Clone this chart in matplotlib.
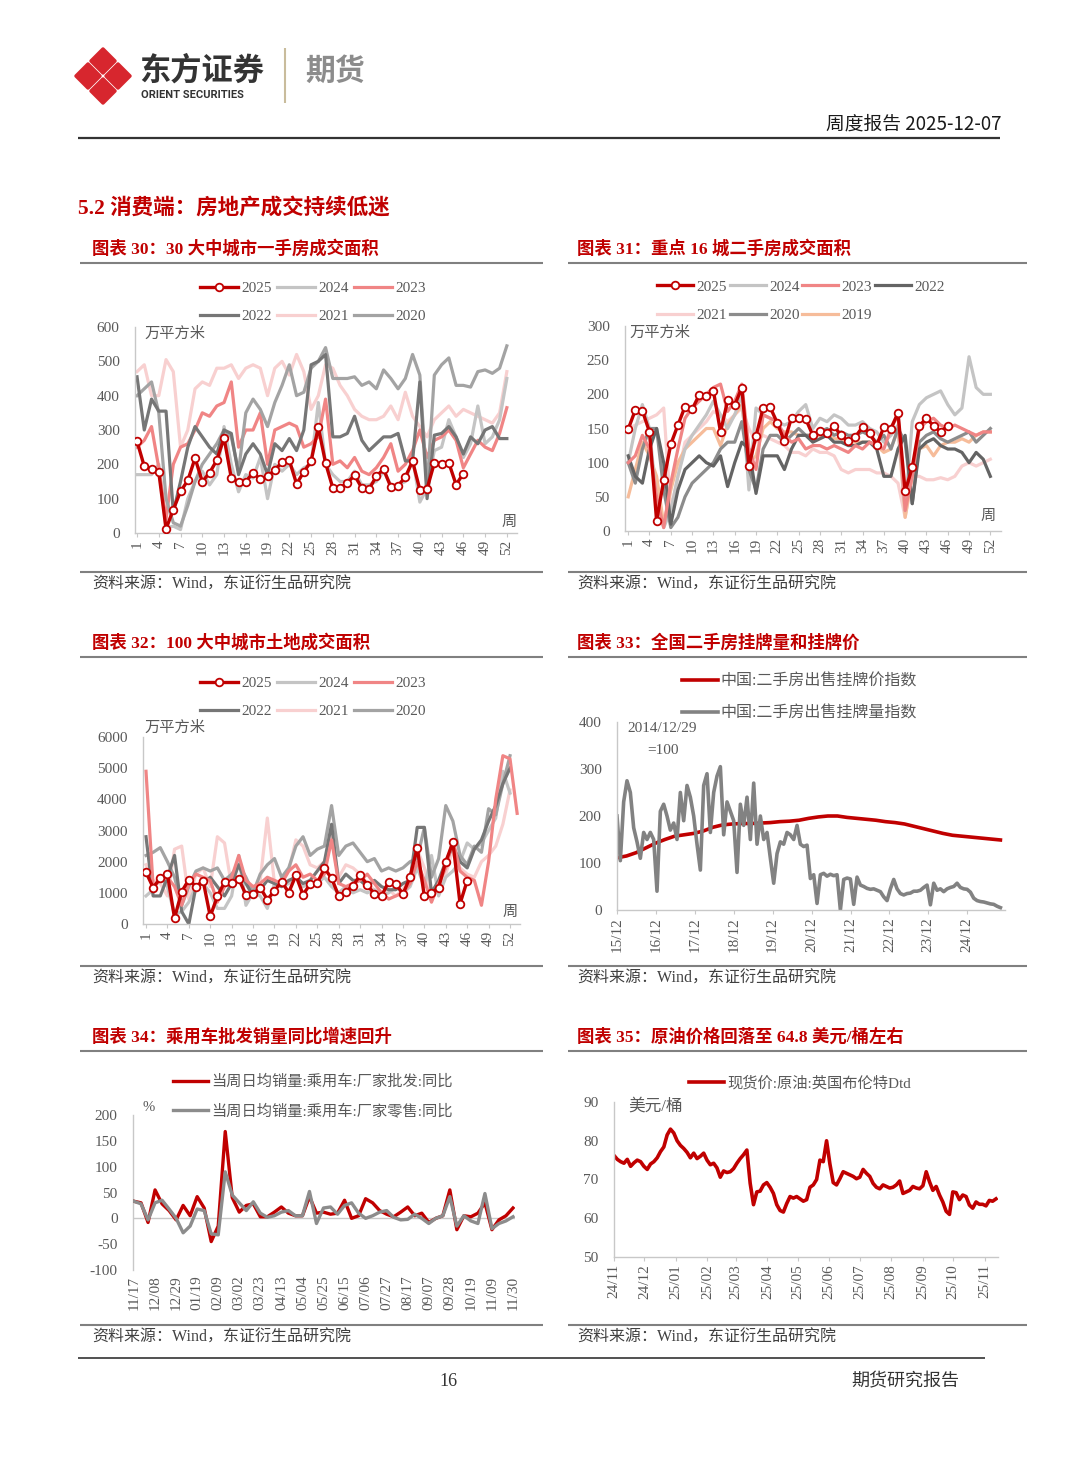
import numpy as np
import pandas as pd
import matplotlib
matplotlib.use('Agg')
import matplotlib.pyplot as plt
from matplotlib.patches import Polygon

plt.rcParams['font.family'] = ['Liberation Serif', 'Noto Sans CJK SC', 'DejaVu Sans']
plt.rcParams['axes.unicode_minus'] = False

W, H = 1080, 1466
RED = '#C00000'
TXT = '#595959'
CJK = ['Noto Sans CJK SC', 'DejaVu Sans']

# ---------------- data ----------------
# chart 30: 30 city new home sales area (10k m2), by week
f30_2025 = [267, 194, 187, 177, 12, 68, 121, 153, 218, 150, 175, 212, 277, 160, 150, 150, 175, 157, 165, 184,
            206, 212, 143, 178, 209, 308, 204, 131, 131, 146, 168, 131, 128, 165, 186, 134, 138, 163, 209, 126,
            129, 204, 202, 204, 141, 173]
f30_2024 = [170, 170, 170, 200, 15, 20, 10, 100, 150, 180, 140, 170, 310, 200, 120, 170, 160, 220, 100, 200,
            180, 200, 170, 190, 200, 380, 200, 170, 150, 150, 180, 140, 140, 150, 180, 140, 140, 150, 220, 90,
            130, 240, 250, 330, 280, 220, 260, 370, 260, 280, 330, 450]
f30_2023 = [250, 270, 310, 190, 40, 200, 250, 260, 300, 350, 340, 370, 380, 440, 250, 300, 300, 350, 200, 300,
            310, 320, 310, 250, 260, 280, 390, 200, 210, 190, 220, 180, 170, 190, 220, 260, 180, 200, 240, 300,
            220, 270, 280, 300, 270, 190, 230, 270, 250, 240, 290, 365]
f30_2022 = [455, 300, 390, 355, 355, 60, 150, 250, 310, 280, 250, 230, 300, 290, 170, 230, 260, 230, 170, 260,
            240, 275, 240, 300, 490, 500, 520, 280, 280, 290, 340, 270, 240, 260, 280, 280, 290, 210, 210, 440,
            100, 285, 290, 310, 280, 230, 280, 260, 300, 310, 275, 275]
f30_2021 = [470, 490, 400, 400, 505, 470, 250, 300, 420, 440, 430, 480, 480, 490, 450, 480, 490, 480, 400, 480,
            500, 460, 520, 470, 360, 400, 490, 480, 430, 400, 360, 340, 330, 330, 340, 370, 330, 410, 340, 310,
            280, 330, 350, 370, 340, 360, 350, 340, 330, 320, 350, 470]
f30_2020 = [400, 420, 440, 350, 100, 30, 20, 80, 150, 200, 230, 260, 300, 280, 180, 350, 390, 360, 310, 380,
            430, 490, 400, 410, 480, 500, 540, 450, 450, 450, 455, 430, 440, 420, 475, 450, 420, 450, 520, 460,
            130, 460, 490, 510, 430, 430, 425, 470, 475, 465, 480, 545]

# chart 31: 16 city second-hand home sales area
s31_2025 = [149, 177, 176, 145, 15, 74, 127, 155, 182, 178, 199, 198, 205, 145, 191, 184, 210, 95, 139, 180,
            181, 158, 131, 166, 166, 164, 140, 147, 144, 153, 140, 131, 138, 152, 143, 126, 152, 150, 173, 58,
            93, 154, 165, 154, 145, 154]
s31_2024 = [100, 150, 185, 150, 40, 5, 30, 80, 120, 140, 155, 170, 190, 170, 150, 170, 200, 60, 180, 170,
            165, 160, 155, 160, 175, 185, 150, 165, 160, 170, 165, 155, 155, 160, 150, 145, 130, 140, 155, 30,
            160, 185, 195, 200, 205, 185, 170, 180, 255, 210, 200, 200]
s31_2023 = [100, 110, 140, 120, 50, 5, 70, 120, 165, 180, 190, 200, 210, 215, 175, 190, 215, 120, 90, 170,
            165, 160, 140, 130, 135, 120, 125, 125, 120, 125, 120, 115, 125, 120, 130, 125, 120, 150, 170, 30,
            80, 150, 160, 165, 155, 150, 155, 150, 145, 140, 145, 145]
s31_2022 = [110, 80, 70, 120, 150, 100, 10, 60, 90, 100, 110, 100, 95, 110, 65, 100, 130, 120, 55, 110,
            110, 110, 90, 120, 140, 140, 130, 135, 140, 130, 130, 125, 125, 130, 130, 120, 80, 80, 120, 140,
            40, 120, 130, 135, 125, 120, 120, 115, 100, 115, 105, 80]
s31_2021 = [150, 155, 160, 165, 170, 180, 30, 80, 130, 140, 150, 160, 175, 170, 160, 170, 180, 150, 130, 140,
            135, 130, 125, 115, 115, 110, 120, 115, 115, 110, 90, 85, 90, 90, 90, 85, 85, 80, 70, 20,
            80, 80, 75, 75, 78, 75, 80, 95, 100, 95, 100, 105]
s31_2020 = [100, 70, 120, 150, 150, 60, 5, 20, 50, 70, 80, 90, 100, 120, 130, 130, 160, 90, 60, 120,
            140, 140, 130, 140, 150, 140, 140, 145, 150, 140, 145, 140, 140, 145, 140, 130, 140, 120, 150, 130,
            40, 130, 140, 145, 135, 130, 135, 140, 145, 130, 140, 150]
s31_2019 = [50, 90, 130, 110, 80, 10, 60, 100, 120, 130, 140, 150, 150, 125, 155, 170, 185, 100, 110, 150,
            160, 150, 145, 145, 140, 140, 140, 140, 140, 135, 135, 130, 130, 130, 130, 125, 115, 120, 150, 20,
            80, 120, 125, 110, 125, 130, 130, 135, 130, 140, 145, 145]

# chart 32: 100 city land transaction area
l32_2025 = [1660, 1170, 1470, 1600, 190, 1040, 1420, 1200, 1390, 245, 885, 1340, 1300, 1440, 940, 960, 1170, 780,
            1070, 1360, 1010, 1560, 940, 1280, 1310, 1790, 1470, 900, 1040, 1230, 1560, 1260, 960, 900, 1360,
            1290, 960, 1510, 2450, 885, 1000, 1170, 2000, 2620, 650, 1390]
l32_2024 = [900, 1100, 1500, 1200, 300, 400, 700, 1200, 1300, 1000, 500, 500, 900, 2200, 600, 1000, 900, 500,
            1300, 1200, 1300, 1600, 1200, 1300, 1300, 1500, 1200, 1000, 1200, 1000, 1100, 1000, 1100, 900, 1000,
            1200, 1000, 1200, 1800, 1200, 2200, 900, 1500, 1700, 2000, 2600, 2400, 2600, 3000, 3400, 4900, 4200]
l32_2023 = [4900, 1200, 1400, 1500, 1200, 600, 1300, 1600, 1500, 1400, 700, 1200, 1500, 2200, 1400, 1200, 1300,
            1500, 1400, 1300, 1700, 1900, 1500, 1600, 1400, 1600, 2700, 1300, 1200, 1300, 1400, 1600, 1300, 1000,
            800, 900, 1000, 1300, 2000, 1400, 700, 1300, 1800, 2700, 1700, 1500, 1400, 600, 2000, 4000, 5400,
            5300, 3550]
l32_2022 = [2800, 900, 900, 1500, 2200, 400, 0, 1200, 1300, 1500, 1200, 900, 1300, 1900, 1300, 900, 1100, 1400,
            1300, 1200, 1400, 1500, 1300, 1400, 1700, 2000, 3200, 1300, 1600, 1400, 1400, 1200, 1400, 1200, 1100,
            1100, 1300, 1400, 3100, 3100, 1000, 1400, 2000, 2500, 2000, 1800, 2400, 2700, 3300, 3800, 4500, 5000]
l32_2021 = [1900, 1400, 1300, 900, 2400, 2500, 800, 1600, 1800, 1200, 2800, 2600, 1200, 1500, 1400, 1000, 1400,
            3400, 1300, 1400, 1700, 2700, 2500, 1900, 1800, 2000, 2800, 1500, 1900, 1800, 1600, 1300, 1100, 900,
            1100, 900, 1100, 1500, 2400, 1800, 900, 1200, 1600, 2400, 1800, 1600, 1500, 2000, 2200, 2500, 3200,
            4300]
l32_2020 = [2200, 2300, 2450, 2000, 1500, 600, 1200, 1700, 1800, 1700, 1800, 1400, 1600, 1900, 1500, 1000, 1600,
            1900, 2100, 1500, 1800, 2500, 2800, 2200, 2400, 2500, 3800, 2200, 2500, 2600, 2300, 2000, 2100, 1700,
            1800, 1700, 1800, 2000, 2100, 3100, 1500, 2100, 3800, 3300, 2200, 1900, 2500, 2300, 3700, 3500, 4500,
            5400]

# chart 33: listing price / volume index (2014/12/29 = 100), Dec 2015 - Oct 2025
price33 = [111, 115, 122, 132, 142, 150, 157, 160, 163, 168, 176, 181, 183, 184, 184, 185, 186, 188, 189, 191,
           195, 198, 200, 200, 197, 195, 193, 191, 188, 186, 183, 178, 173, 168, 163, 159, 157, 155, 153, 151, 149]
volume33 = [200, 105, 230, 275, 250, 175, 145, 110, 165, 150, 165, 150, 40, 210, 225, 200, 170, 185, 150, 250,
            190, 265, 240, 200, 140, 85, 265, 290, 165, 250, 285, 305, 160, 230, 210, 190, 80, 225, 180, 240,
            150, 270, 140, 200, 150, 165, 110, 57, 120, 145, 140, 165, 160, 150, 180, 140, 135, 138, 67, 75,
            14, 75, 78, 72, 76, 73, 75, 0, 65, 68, 66, 12, 70, 53, 50, 46, 44, 45, 42, 39,
            28, 20, 45, 65, 45, 35, 32, 35, 36, 40, 40, 42, 48, 53, 11, 57, 42, 45, 39, 45,
            48, 50, 57, 48, 45, 44, 38, 25, 20, 18, 17, 15, 13, 12, 8, 5]

# chart 34: passenger car weekly daily-average sales yoy (%)
wholesale34 = [33, 30, -8, 55, 28, 15, -3, 25, 5, 42, 20, -45, -15, 168, 40, 12, 25, 28, 3, 3,
               12, 22, 10, 5, 5, 42, 10, 12, 8, 10, 35, 0, 5, 38, 30, 15, 8, 3, 12, 22,
               5, 10, -8, 0, 5, 55, -22, 5, 3, 10, 30, -22, -3, 5, 20]
retail34 = [33, 28, -3, 30, 35, 18, 0, -28, -15, 18, 15, -30, -32, 90, 45, 30, 15, 32, 10, 2,
            5, 12, 15, 5, 5, 52, -10, 20, 22, 8, 25, 30, 10, 0, 5, 12, 15, 2, -3, -2,
            8, 0, -10, 0, 5, 42, -15, 5, -5, -10, 48, -20, -10, -5, 3]

# chart 35: Brent Dtd spot (USD/bbl), Nov 2024 - Nov 2025
brent35 = [76.2, 75.2, 74.6, 74.2, 75.2, 73.4, 74.3, 75.0, 74.6, 73.4,
           72.6, 74.0, 74.6, 75.6, 77.2, 78.4, 81.5, 83.0, 82.0, 80.0,
           78.8, 78.0, 77.0, 75.6, 76.8, 75.4, 76.0, 76.8, 75.0, 73.8,
           74.2, 73.0, 70.6, 72.2, 71.8, 72.0, 72.8, 74.2, 75.4, 76.4,
           77.6, 69.0, 63.5, 66.8, 67.0, 68.6, 69.2, 68.0, 66.4, 63.5,
           62.0, 61.6, 63.8, 65.6, 65.2, 65.6, 65.0, 64.4, 64.8, 68.0,
           68.6, 70.0, 75.0, 74.6, 80.0, 74.0, 69.2, 68.6, 70.2, 72.0,
           71.6, 71.2, 70.8, 70.2, 70.6, 72.6, 71.6, 70.8, 69.0, 68.0,
           67.6, 68.6, 68.2, 67.8, 68.0, 68.6, 69.6, 66.4, 66.8, 67.2,
           68.2, 67.8, 67.6, 68.4, 72.0, 69.4, 67.2, 68.2, 66.0, 64.2,
           61.8, 61.0, 66.8, 66.6, 64.8, 66.0, 65.6, 63.4, 62.6, 64.2,
           63.6, 63.6, 63.2, 64.6, 64.4, 65.0]

week_ticks = np.arange(1, 53, 3)


def rect(x0, y0, x1, y1):
    return [x0 / W, 1 - y1 / H, (x1 - x0) / W, (y1 - y0) / H]


def style(ax):
    ax.set_facecolor('none')
    for s in ('top', 'right'):
        ax.spines[s].set_visible(False)
    for s in ('left', 'bottom'):
        ax.spines[s].set_color('#C8C8C8')
        ax.spines[s].set_linewidth(1.0)
    ax.tick_params(axis='y', length=0, pad=11, labelsize=11, labelcolor=TXT)
    ax.tick_params(axis='x', length=3, width=0.8, pad=2, labelsize=11, labelcolor=TXT,
                   color='#C8C8C8', labelrotation=90)


def legend(ax, handles, ncol, anchor, fs=11, hl=2.5, cs=0.35):
    ax.legend(handles=handles, ncol=ncol, loc='center', bbox_to_anchor=anchor, frameon=False,
              fontsize=fs, handlelength=hl, handletextpad=0.2, columnspacing=cs,
              labelspacing=0.95, borderpad=0, labelcolor=TXT)


def weekly(ax, series, colors):
    lines = {}
    for name, y in series:
        x = np.arange(1, len(y) + 1)
        if name == '2025':
            ln, = ax.plot(x, y, color=RED, lw=2.4, marker='o', ms=5.5, mfc='white',
                          mec=RED, mew=1.3, zorder=5, label=name)
        else:
            ln, = ax.plot(x, y, color=colors[name], lw=2.3, label=name, solid_joinstyle='round')
        lines[name] = ln
    ax.set_xticks(week_ticks)
    return lines


fig = plt.figure(figsize=(W / 100, H / 100), dpi=100)

# ---------------- page decorations ----------------
page = fig.add_axes([0, 0, 1, 1])
page.set_xlim(0, W)
page.set_ylim(H, 0)
page.axis('off')

# logo
for cx, cy in [(103, 61), (88, 76), (118, 76), (103, 91)]:
    d = 12
    page.add_patch(Polygon([(cx, cy - d), (cx + d, cy), (cx, cy + d), (cx - d, cy)], closed=True,
                           facecolor='#D7262E', edgecolor='#D7262E', lw=2.5, joinstyle='round'))
page.text(139, 71, '东方证券', fontsize=22.5, fontweight='bold', color='#333333', family=CJK, va='center')
page.text(141, 95, 'ORIENT SECURITIES', fontsize=8, fontweight='bold', color='#333333',
          family=['Roboto', 'DejaVu Sans'], va='center')
page.vlines(285, 48, 103, color='#C9BC9C', lw=1.5)
page.text(305, 71, '期货', fontsize=21.5, fontweight='bold', color='#8C8C8C', family=CJK, va='center')
page.text(1001, 124, '周度报告 2025-12-07', fontsize=13.5, color='#1A1A1A', family=CJK, ha='right', va='center')
page.hlines(138, 78, 1000, color='#333333', lw=1.6)

page.text(78, 209, '5.2 消费端：房地产成交持续低迷', fontsize=15.5, fontweight='bold', color=RED, va='center')

titles = ['图表 30：30 大中城市一手房成交面积', '图表 31：重点 16 城二手房成交面积',
          '图表 32：100 大中城市土地成交面积', '图表 33：全国二手房挂牌量和挂牌价',
          '图表 34：乘用车批发销量同比增速回升', '图表 35：原油价格回落至 64.8 美元/桶左右']
row_title_y = [249, 643, 1037]
row_src_y = [572, 966, 1325]
for r in range(3):
    for c, (tx, lx0, lx1) in enumerate([(92, 80, 543), (577, 568, 1027)]):
        page.text(tx, row_title_y[r], titles[2 * r + c], fontsize=12.5, fontweight='bold', color=RED, va='center')
        page.hlines(row_title_y[r] + 14, lx0, lx1, color='#808080', lw=1.5)
        page.hlines(row_src_y[r], lx0, lx1, color='#808080', lw=1.5)
        page.text(tx, row_src_y[r] + 13, '资料来源：Wind，东证衍生品研究院', fontsize=11.5,
                  color='#404040', va='center')

page.hlines(1358, 78, 985, color='#333333', lw=1.2)
page.text(448, 1381, '16', fontsize=13, color='#333333', ha='center', va='center')
page.text(905, 1381, '期货研究报告', fontsize=13, color='#333333', family=CJK, ha='center', va='center')

# ---------------- chart 30 ----------------
ax = fig.add_axes(rect(135, 327, 517, 533))
style(ax)
c30 = {'2024': '#C4C4C4', '2023': '#F08585', '2022': '#767676', '2021': '#F8D0D0', '2020': '#A3A3A3'}
ln = weekly(ax, [('2021', f30_2021), ('2024', f30_2024), ('2023', f30_2023), ('2020', f30_2020),
                 ('2022', f30_2022), ('2025', f30_2025)], c30)
ax.set_xlim(0.72, 53.4)
ax.set_ylim(0, 600)
ax.set_yticks(np.arange(0, 601, 100))
legend(ax, [ln[k] for k in ['2025', '2022', '2024', '2021', '2023', '2020']], 3, (0.466, 1.119))
ax.text(0.026, 0.966, '万平方米', transform=ax.transAxes, fontsize=11, color=TXT, va='center')
ax.text(1.0, 0.02, '周', transform=ax.transAxes, fontsize=11, color=TXT, ha='right', va='bottom')

# ---------------- chart 31 ----------------
ax = fig.add_axes(rect(625, 326, 1001, 531))
style(ax)
c31 = {'2024': '#C4C4C4', '2023': '#F08585', '2022': '#646464', '2021': '#F8D0D0', '2020': '#8C8C8C',
       '2019': '#F6BC9A'}
ln = weekly(ax, [('2021', s31_2021), ('2019', s31_2019), ('2024', s31_2024), ('2020', s31_2020),
                 ('2022', s31_2022), ('2023', s31_2023), ('2025', s31_2025)], c31)
ax.set_xlim(0.55, 53.5)
ax.set_ylim(0, 300)
ax.set_yticks(np.arange(0, 301, 50))
legend(ax, [ln[k] for k in ['2025', '2021', '2024', '2020', '2023', '2019', '2022']], 4, (0.468, 1.122),
       hl=2.35, cs=0.2)
ax.text(0.013, 0.966, '万平方米', transform=ax.transAxes, fontsize=11, color=TXT, va='center')
ax.text(0.965, 0.07, '周', transform=ax.transAxes, fontsize=11, color=TXT, ha='center', va='center')

# ---------------- chart 32 ----------------
ax = fig.add_axes(rect(143, 737, 520, 924))
style(ax)
ln = weekly(ax, [('2021', l32_2021), ('2024', l32_2024), ('2020', l32_2020), ('2022', l32_2022),
                 ('2023', l32_2023), ('2025', l32_2025)], c30)
ax.set_xlim(0.58, 53.4)
ax.set_ylim(0, 6000)
ax.set_yticks(np.arange(0, 6001, 1000))
legend(ax, [ln[k] for k in ['2025', '2022', '2024', '2021', '2023', '2020']], 3, (0.451, 1.211))
ax.text(0.005, 1.048, '万平方米', transform=ax.transAxes, fontsize=11, color=TXT, va='center')
ax.text(0.973, 0.06, '周', transform=ax.transAxes, fontsize=11, color=TXT, ha='center', va='center')

# ---------------- chart 33 ----------------
ax = fig.add_axes(rect(617, 722, 1005, 910))
style(ax)
d_price = pd.date_range('2015-12-01', '2025-10-08', periods=len(price33))
d_vol = pd.date_range('2015-12-01', '2025-10-08', periods=len(volume33))
l1, = ax.plot(d_price, price33, color=RED, lw=2.6, label='中国:二手房出售挂牌价指数')
l2, = ax.plot(d_vol, volume33, color='#828282', lw=2.6, label='中国:二手房出售挂牌量指数')
tk = pd.date_range('2015-12-01', '2024-12-01', freq='12MS')
ax.set_xticks(tk)
ax.set_xticklabels([t.strftime('%y/%m') for t in tk])
ax.set_xlim(pd.Timestamp('2015-12-01'), pd.Timestamp('2025-11-20'))
ax.set_ylim(0, 400)
ax.set_yticks(np.arange(0, 401, 100))
legend(ax, [l1, l2], 1, (0.47, 1.13), fs=11.5, hl=2.25)
ax.text(0.026, 0.968, '2014/12/29', transform=ax.transAxes, fontsize=11, color=TXT, va='center')
ax.text(0.077, 0.846, '=100', transform=ax.transAxes, fontsize=11, color=TXT, va='center')

# ---------------- chart 34 ----------------
ax = fig.add_axes(rect(133, 1115, 515, 1270))
style(ax)
ax.spines['bottom'].set_visible(False)
d34 = pd.date_range('2024-11-17', periods=len(wholesale34), freq='7D')
ax.axhline(0, color='#C8C8C8', lw=1.0, zorder=1)
l1, = ax.plot(d34, wholesale34, color=RED, lw=2.4, label='当周日均销量:乘用车:厂家批发:同比', zorder=3)
l2, = ax.plot(d34, retail34, color='#8C8C8C', lw=2.4, label='当周日均销量:乘用车:厂家零售:同比', zorder=4)
ax.set_xticks(d34[::3])
ax.set_xticklabels([t.strftime('%m/%d') for t in d34[::3]])
ax.tick_params(axis='x', length=0, pad=4)
ax.set_xlim(d34[0] - pd.Timedelta(days=1), d34[-1] + pd.Timedelta(days=2))
ax.set_ylim(-100, 200)
ax.set_yticks(np.arange(-100, 201, 50))
legend(ax, [l1, l2], 1, (0.47, 1.12), fs=11, hl=2.3)
ax.text(0.026, 1.05, '%', transform=ax.transAxes, fontsize=10.5, color=TXT, va='center')

# ---------------- chart 35 ----------------
ax = fig.add_axes(rect(614, 1102, 998, 1257))
style(ax)
d35 = pd.date_range('2024-11-01', '2025-11-12', periods=len(brent35))
l1, = ax.plot(d35, brent35, color=RED, lw=2.6, label='现货价:原油:英国布伦特Dtd')
tk = pd.date_range('2024-11-01', '2025-11-01', freq='MS')
ax.set_xticks(tk)
ax.set_xticklabels([t.strftime('%y/%m') for t in tk])
ax.set_xlim(pd.Timestamp('2024-11-01'), pd.Timestamp('2025-11-14'))
ax.set_ylim(50, 90)
ax.set_yticks(np.arange(50, 91, 10))
legend(ax, [l1], 1, (0.484, 1.12), fs=11, hl=2.3)
ax.text(0.036, 0.968, '美元/桶', transform=ax.transAxes, fontsize=12, color=TXT, va='center')

fig.savefig('out.png', dpi=100, facecolor='white')
